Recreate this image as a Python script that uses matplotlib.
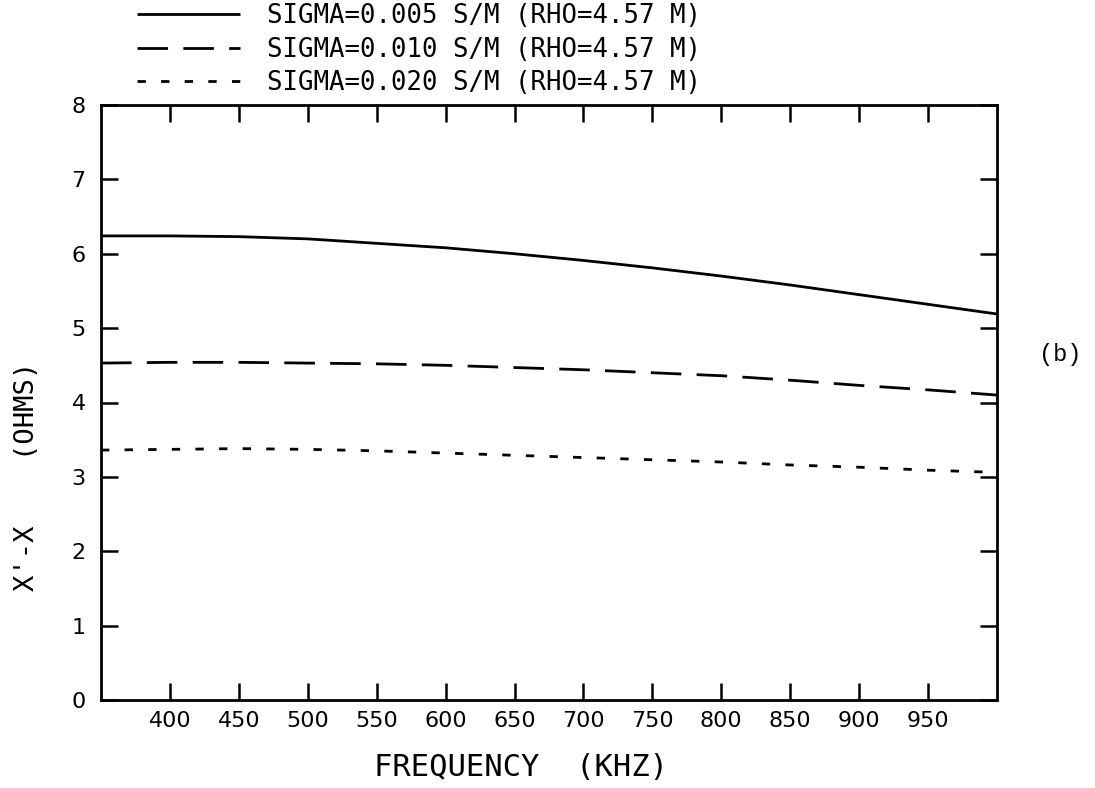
import numpy as np
import matplotlib.pyplot as plt

# frequency in kHz, X'-X in ohms
freq = [350, 400, 450, 500, 550, 600, 650, 700, 750, 800, 850, 900, 950, 1000]
x_005 = [6.24, 6.24, 6.23, 6.20, 6.14, 6.08, 6.00, 5.91, 5.81, 5.70, 5.58, 5.45, 5.32, 5.19]
x_010 = [4.53, 4.54, 4.54, 4.53, 4.52, 4.50, 4.47, 4.44, 4.40, 4.36, 4.30, 4.23, 4.17, 4.10]
x_020 = [3.36, 3.37, 3.38, 3.37, 3.35, 3.32, 3.29, 3.26, 3.23, 3.20, 3.16, 3.13, 3.09, 3.06]

labels = ["SIGMA=0.005 S/M (RHO=4.57 M)",
          "SIGMA=0.010 S/M (RHO=4.57 M)",
          "SIGMA=0.020 S/M (RHO=4.57 M)"]
xticks = [400, 450, 500, 550, 600, 650, 700, 750, 800, 850, 900, 950]
yticks = [0, 1, 2, 3, 4, 5, 6, 7, 8]

MONO = "DejaVu Sans Mono"
W, H = 1095, 788
fig = plt.figure(figsize=(W / 100, H / 100), dpi=100)
ax = fig.add_axes([101 / W, 1 - 700 / H, (997 - 101) / W, (700 - 105) / H])

lw = 2.0
l1, = ax.plot(freq, x_005, color="black", lw=lw, solid_capstyle="butt")
l2, = ax.plot(freq, x_010, color="black", lw=lw, dashes=(11, 5.5))
l3, = ax.plot(freq, x_020, color="black", lw=lw, dashes=(3, 5.5))

ax.set_xlim(350, 1000)
ax.set_ylim(0, 8)
ax.set_xticks(xticks)
ax.set_yticks(yticks)
ax.tick_params(direction="in", length=12, width=1.8, top=True, right=True,
               labelsize=16, pad=8)
ax.tick_params(axis="y", pad=11)
for s in ax.spines.values():
    s.set_linewidth(2)

fig.text(521 / W, 1 - 767 / H, "FREQUENCY  (KHZ)", fontsize=22, family=MONO,
         ha="center", va="center")
fig.text(27 / W, 1 - 476 / H, "X'-X    (OHMS)", fontsize=19.5, family=MONO,
         rotation=90, ha="center", va="center")
fig.text(1060 / W, 1 - 355 / H, "(b)", fontsize=17, family="Liberation Mono",
         ha="center", va="center")

fig.legend([l1, l2, l3], labels, loc="upper left",
           bbox_to_anchor=(137 / W, 1 - 3 / H), frameon=False,
           prop={"family": MONO, "size": 18.5},
           handlelength=4.0, handletextpad=1.05, labelspacing=0.3,
           borderpad=0, borderaxespad=0)

fig.savefig("out.png", dpi=100)
